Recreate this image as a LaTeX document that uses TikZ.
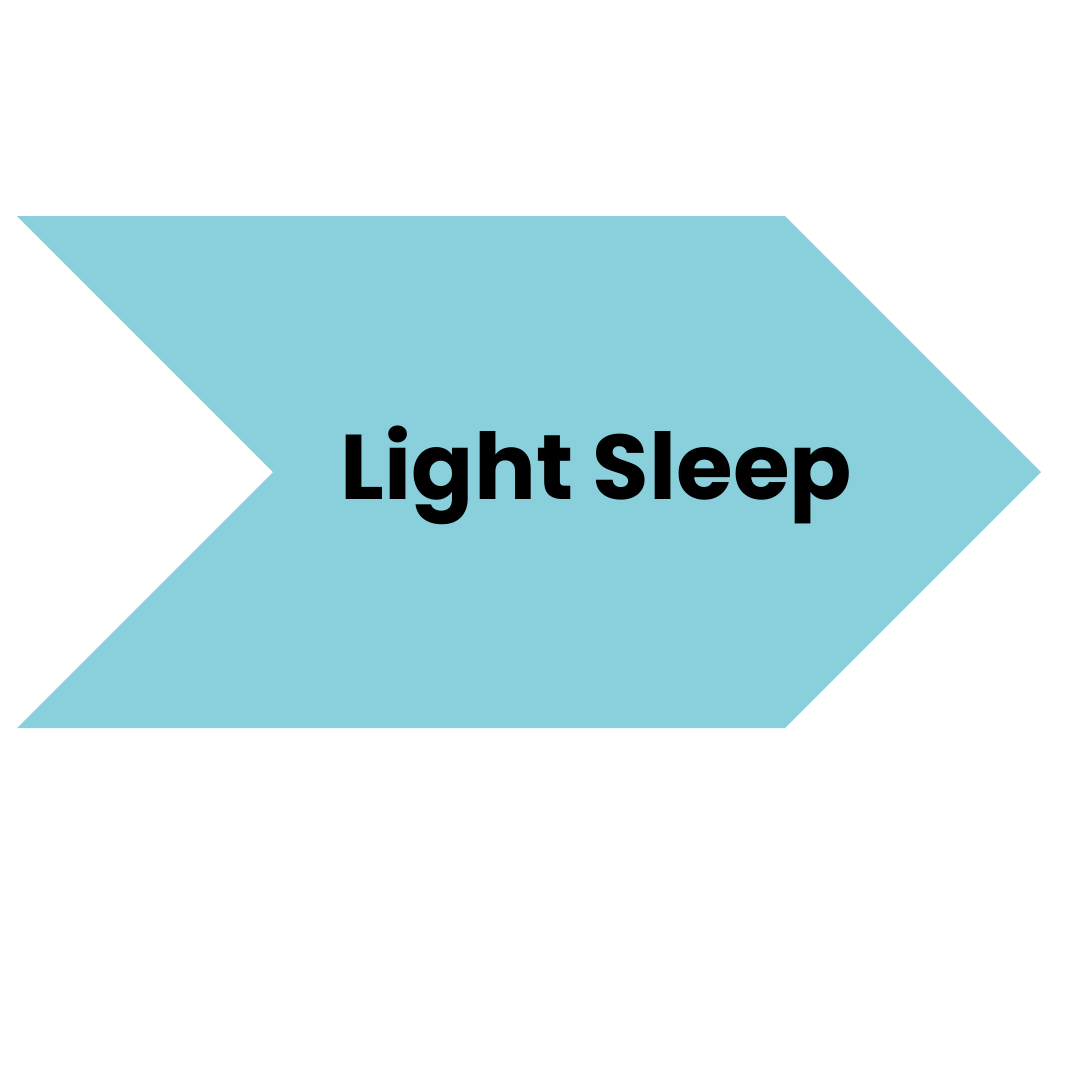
\documentclass[tikz,border=0pt]{standalone}
\usepackage{fontspec}
\newfontfamily\labelfont{Poppins}
\definecolor{chev}{HTML}{8AD0DC}
\tikzset{chevron/.style={fill=chev,draw=none},
  lbl/.style={inner sep=0pt,font=\labelfont\bfseries}}
\begin{document}
\begin{tikzpicture}[x=1pt,y=-1pt]
\useasboundingbox (0,0) rectangle (1080,1080);
\fill[white] (0,0) rectangle (1080,1080);
\path[chevron] (17,216) -- (785,216) -- (1041,472) -- (785,728) -- (17,728) -- (273,472) -- cycle;
\node[lbl,anchor=base] (t) at (596.5,499) {\resizebox{511pt}{!}{Light Sleep}};
\end{tikzpicture}
\end{document}
